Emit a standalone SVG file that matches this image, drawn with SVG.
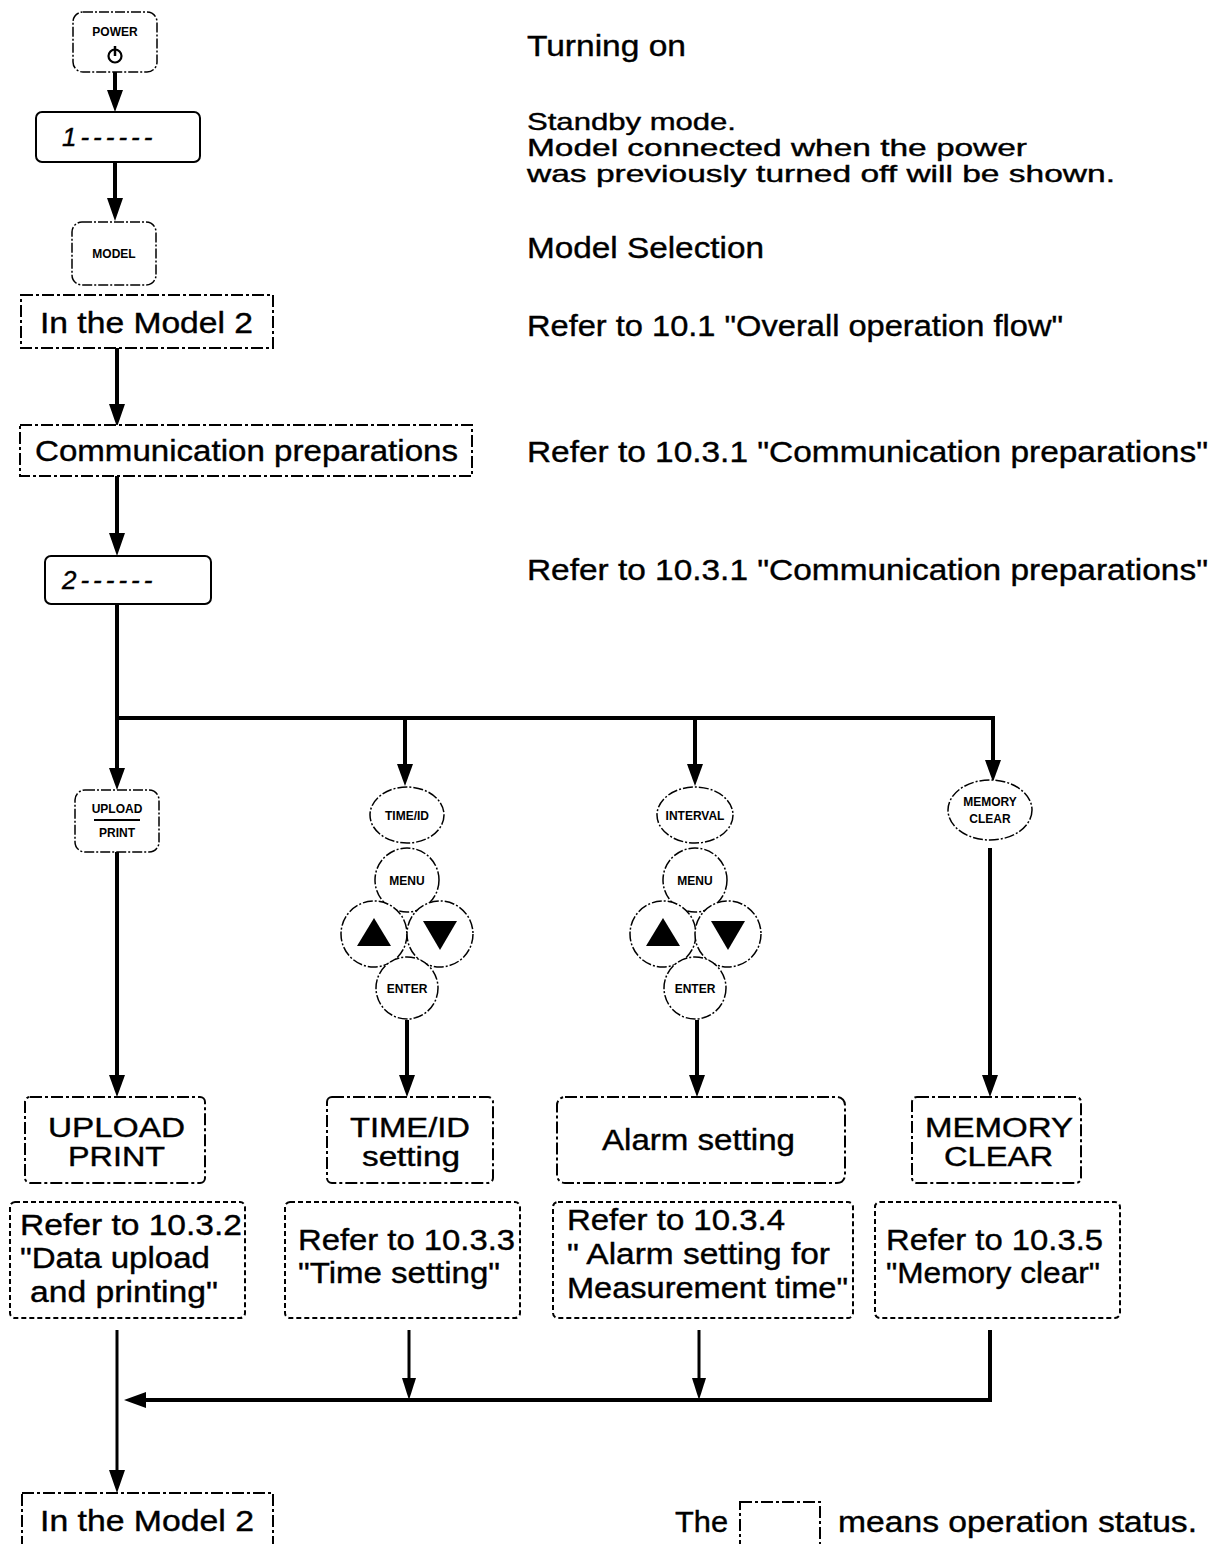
<svg xmlns="http://www.w3.org/2000/svg" width="1222" height="1544" viewBox="0 0 1222 1544">
<style>
text{font-family:"Liberation Sans",Arial,sans-serif;fill:#000;stroke:#000;stroke-width:0.4}
.t{font-size:30px}
.s{font-size:27px}
.n{font-size:24px}
.b{font-size:30px}
.r{font-size:30px}
.k{font-size:12px;font-weight:bold;text-anchor:middle;stroke:none}
.key{fill:#fff;stroke:#000;stroke-width:1.5;stroke-dasharray:10 2 2 2}
.st{fill:#fff;stroke:#000;stroke-width:2;stroke-dasharray:12 3 3 3}
.ref{fill:#fff;stroke:#000;stroke-width:2;stroke-dasharray:5 3}
.disp{fill:#fff;stroke:#000;stroke-width:2}
.ln{fill:none;stroke:#000;stroke-width:4}
.ln2{fill:none;stroke:#000;stroke-width:3}
</style>

<g id="connectors">
<line class="ln" x1="115" y1="72" x2="115" y2="90"/>
<path d="M107,90 L123,90 L115,112 Z"/>
<line class="ln" x1="115" y1="162" x2="115" y2="198"/>
<path d="M107,198 L123,198 L115,221 Z"/>
<line class="ln" x1="117" y1="348" x2="117" y2="404"/>
<path d="M109,404 L125,404 L117,427 Z"/>
<line class="ln" x1="117" y1="476" x2="117" y2="533"/>
<path d="M109,533 L125,533 L117,556 Z"/>
<line class="ln" x1="117" y1="604" x2="117" y2="768"/>
<path d="M109,768 L125,768 L117,790 Z"/>
<line class="ln" x1="115" y1="718" x2="995" y2="718"/>
<line class="ln" x1="405" y1="718" x2="405" y2="764"/>
<path d="M397,764 L413,764 L405,786 Z"/>
<line class="ln" x1="695" y1="718" x2="695" y2="764"/>
<path d="M687,764 L703,764 L695,786 Z"/>
<line class="ln" x1="993" y1="716" x2="993" y2="760"/>
<path d="M985,760 L1001,760 L993,782 Z"/>
<line class="ln" x1="117" y1="852" x2="117" y2="1075"/>
<path d="M109,1075 L125,1075 L117,1097 Z"/>
<line class="ln" x1="407" y1="1020" x2="407" y2="1075"/>
<path d="M399,1075 L415,1075 L407,1097 Z"/>
<line class="ln" x1="697" y1="1020" x2="697" y2="1075"/>
<path d="M689,1075 L705,1075 L697,1097 Z"/>
<line class="ln" x1="990" y1="848" x2="990" y2="1075"/>
<path d="M982,1075 L998,1075 L990,1097 Z"/>
<line class="ln2" x1="117" y1="1330" x2="117" y2="1470"/>
<path d="M109,1470 L125,1470 L117,1493 Z"/>
<line class="ln2" x1="409" y1="1330" x2="409" y2="1378"/>
<path d="M402,1378 L416,1378 L409,1400 Z"/>
<line class="ln2" x1="699" y1="1330" x2="699" y2="1378"/>
<path d="M692,1378 L706,1378 L699,1400 Z"/>
<path class="ln" d="M990,1330 L990,1400 L144,1400"/>
<path d="M146,1392 L146,1408 L124,1400 Z"/>
</g>

<g id="power">
<rect class="key" x="73" y="12" width="84" height="60" rx="10"/>
<text class="k" x="115" y="36">POWER</text>
<circle cx="115" cy="56" r="6.5" fill="none" stroke="#000" stroke-width="2.2"/>
<line x1="115" y1="46" x2="115" y2="56" stroke="#000" stroke-width="2.5"/>
</g>
<g id="display1">
<rect class="disp" x="36" y="112" width="164" height="50" rx="6"/>
<text x="62" y="146" font-size="26" font-style="italic" letter-spacing="4">1------</text>
</g>
<g id="model">
<rect class="key" x="72" y="222" width="84" height="63" rx="10"/>
<text class="k" x="114" y="258" font-size="11">MODEL</text>
</g>
<g id="inmodel1">
<rect class="st" x="21" y="295" width="252" height="53"/>
<text class="t" x="40" y="333" textLength="213" lengthAdjust="spacingAndGlyphs">In the Model 2</text>
</g>
<g id="comm">
<rect class="st" x="20" y="425" width="452" height="51"/>
<text class="t" x="35" y="461" textLength="423" lengthAdjust="spacingAndGlyphs">Communication preparations</text>
</g>
<g id="display2">
<rect class="disp" x="45" y="556" width="166" height="48" rx="6"/>
<text x="62" y="589" font-size="26" font-style="italic" letter-spacing="4">2------</text>
</g>

<g id="uploadkey">
<rect class="key" x="75" y="790" width="84" height="62" rx="10"/>
<text class="k" x="117" y="813" font-size="11">UPLOAD</text>
<line x1="94" y1="820" x2="140" y2="820" stroke="#000" stroke-width="2"/>
<text class="k" x="117" y="837" font-size="11">PRINT</text>
</g>
<g id="timekeys">
<ellipse class="key" cx="407" cy="815" rx="37" ry="28"/>
<text class="k" x="407" y="820" font-size="11">TIME/ID</text>
<circle class="key" cx="407" cy="880" r="32"/>
<text class="k" x="407" y="885" font-size="12">MENU</text>
<circle class="key" cx="374" cy="934" r="33"/>
<path d="M374,918 L391,946 L357,946 Z"/>
<circle class="key" cx="440" cy="934" r="33"/>
<path d="M423,921 L457,921 L440,950 Z"/>
<circle class="key" cx="407" cy="988" r="31"/>
<text class="k" x="407" y="993" font-size="12">ENTER</text>
</g>
<g id="intervalkeys">
<ellipse class="key" cx="695" cy="815" rx="38" ry="28"/>
<text class="k" x="695" y="820" font-size="11">INTERVAL</text>
<circle class="key" cx="695" cy="880" r="32"/>
<text class="k" x="695" y="885" font-size="12">MENU</text>
<circle class="key" cx="663" cy="934" r="33"/>
<path d="M663,918 L680,946 L646,946 Z"/>
<circle class="key" cx="728" cy="934" r="33"/>
<path d="M711,921 L745,921 L728,950 Z"/>
<circle class="key" cx="695" cy="988" r="31"/>
<text class="k" x="695" y="993" font-size="12">ENTER</text>
</g>
<g id="memorykey">
<ellipse class="key" cx="990" cy="810" rx="42" ry="30"/>
<text class="k" x="990" y="806" font-size="11">MEMORY</text>
<text class="k" x="990" y="823" font-size="11">CLEAR</text>
</g>

<g id="uploadbox">
<rect class="st" x="25" y="1097" width="180" height="86" rx="5"/>
<text class="s" x="48" y="1137" textLength="137" lengthAdjust="spacingAndGlyphs">UPLOAD</text>
<text class="s" x="68" y="1166" textLength="97" lengthAdjust="spacingAndGlyphs">PRINT</text>
</g>
<g id="timebox">
<rect class="st" x="327" y="1097" width="166" height="86" rx="5"/>
<text class="s" x="350" y="1137" textLength="120" lengthAdjust="spacingAndGlyphs">TIME/ID</text>
<text class="s" x="362" y="1166" textLength="98" lengthAdjust="spacingAndGlyphs">setting</text>
</g>
<g id="alarmbox">
<rect class="st" x="557" y="1097" width="288" height="86" rx="8"/>
<text class="b" x="602" y="1150" textLength="193" lengthAdjust="spacingAndGlyphs">Alarm setting</text>
</g>
<g id="memorybox">
<rect class="st" x="912" y="1097" width="169" height="86" rx="5"/>
<text class="s" x="925" y="1137" textLength="148" lengthAdjust="spacingAndGlyphs">MEMORY</text>
<text class="s" x="944" y="1166" textLength="109" lengthAdjust="spacingAndGlyphs">CLEAR</text>
</g>

<g id="ref1">
<rect class="ref" x="10" y="1202" width="235" height="116" rx="5"/>
<text class="r" x="20" y="1235" textLength="222" lengthAdjust="spacingAndGlyphs">Refer to 10.3.2</text>
<text class="r" x="20" y="1268" textLength="190" lengthAdjust="spacingAndGlyphs">"Data upload</text>
<text class="r" x="30" y="1302" textLength="188" lengthAdjust="spacingAndGlyphs">and printing"</text>
</g>
<g id="ref2">
<rect class="ref" x="285" y="1202" width="235" height="116" rx="5"/>
<text class="r" x="298" y="1250" textLength="217" lengthAdjust="spacingAndGlyphs">Refer to 10.3.3</text>
<text class="r" x="298" y="1283" textLength="202" lengthAdjust="spacingAndGlyphs">"Time setting"</text>
</g>
<g id="ref3">
<rect class="ref" x="553" y="1202" width="300" height="116" rx="5"/>
<text class="r" x="567" y="1230" textLength="218" lengthAdjust="spacingAndGlyphs">Refer to 10.3.4</text>
<text class="r" x="567" y="1264" textLength="263" lengthAdjust="spacingAndGlyphs">" Alarm setting for</text>
<text class="r" x="567" y="1298" textLength="281" lengthAdjust="spacingAndGlyphs">Measurement time"</text>
</g>
<g id="ref4">
<rect class="ref" x="875" y="1202" width="245" height="116" rx="5"/>
<text class="r" x="886" y="1250" textLength="217" lengthAdjust="spacingAndGlyphs">Refer to 10.3.5</text>
<text class="r" x="886" y="1283" textLength="214" lengthAdjust="spacingAndGlyphs">"Memory clear"</text>
</g>

<g id="inmodel2">
<rect class="st" x="22" y="1493" width="251" height="60"/>
<text class="t" x="40" y="1531" textLength="214" lengthAdjust="spacingAndGlyphs">In the Model 2</text>
</g>

<g id="notes">
<text class="t" x="527" y="56" textLength="159" lengthAdjust="spacingAndGlyphs">Turning on</text>
<text class="n" x="527" y="130" textLength="209" lengthAdjust="spacingAndGlyphs">Standby mode.</text>
<text class="n" x="527" y="156" textLength="500" lengthAdjust="spacingAndGlyphs">Model connected when the power</text>
<text class="n" x="527" y="182" textLength="588" lengthAdjust="spacingAndGlyphs">was previously turned off will be shown.</text>
<text class="t" x="527" y="258" textLength="237" lengthAdjust="spacingAndGlyphs">Model Selection</text>
<text class="t" x="527" y="336" textLength="536" lengthAdjust="spacingAndGlyphs">Refer to 10.1 "Overall operation flow"</text>
<text class="t" x="527" y="462" textLength="681" lengthAdjust="spacingAndGlyphs">Refer to 10.3.1 "Communication preparations"</text>
<text class="t" x="527" y="580" textLength="681" lengthAdjust="spacingAndGlyphs">Refer to 10.3.1 "Communication preparations"</text>
</g>
<g id="legend">
<text class="t" x="675" y="1532" textLength="53" lengthAdjust="spacingAndGlyphs">The</text>
<rect class="st" x="740" y="1502" width="80" height="50"/>
<text class="t" x="838" y="1532" textLength="359" lengthAdjust="spacingAndGlyphs">means operation status.</text>
</g>
</svg>
